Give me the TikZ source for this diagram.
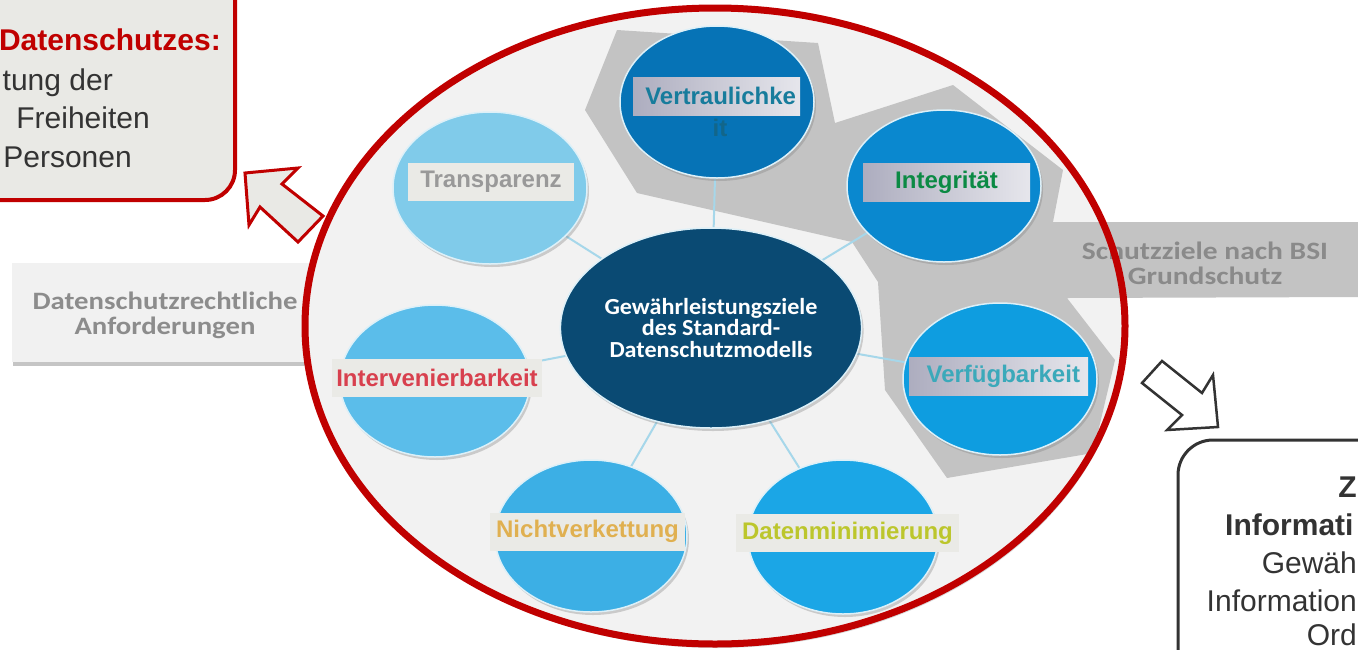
\documentclass[tikz,border=0pt]{standalone}
\usepackage{graphicx}
\usepackage{fontspec}
\setmainfont{Liberation Sans}
\newfontfamily\calfont{Carlito}
\usetikzlibrary{shapes.geometric,shadows}

\newcommand\widetext[2]{\scalebox{#1}[1]{#2}}

\definecolor{ringred}{HTML}{C00000}
\definecolor{disk}{HTML}{F2F2F2}
\definecolor{band}{HTML}{C3C3C3}
\definecolor{bandtext}{HTML}{8A8A8A}
\definecolor{boxfill}{HTML}{E9E9E5}
\definecolor{leftfill}{HTML}{F1F1F1}
\definecolor{lefttext}{HTML}{8C8C8C}
\definecolor{darktext}{HTML}{333333}
\definecolor{linkblue}{HTML}{A6D7EA}
\definecolor{rimblue}{HTML}{DDF0F8}
\definecolor{coreblue}{HTML}{0A4A73}
\definecolor{cVer}{HTML}{0673B6}
\definecolor{cInt}{HTML}{0A88CF}
\definecolor{cVfg}{HTML}{0E9DE0}
\definecolor{cDat}{HTML}{1BA6E6}
\definecolor{cNic}{HTML}{3CAFE5}
\definecolor{cInv}{HTML}{5BBDEA}
\definecolor{cTra}{HTML}{80CBEA}
\definecolor{tagplain}{HTML}{EAEAE6}
\definecolor{tagdark}{HTML}{ADADBF}
\definecolor{taglight}{HTML}{E6E6EC}
\definecolor{tVer}{HTML}{177C9C}
\definecolor{tVerB}{HTML}{12668A}
\definecolor{tInt}{HTML}{0B8A44}
\definecolor{tVfg}{HTML}{3BA9BA}
\definecolor{tDat}{HTML}{BCC62C}
\definecolor{tNic}{HTML}{E0B050}
\definecolor{tInv}{HTML}{D8404E}
\definecolor{tTra}{HTML}{999999}

\pgfdeclarelayer{base}
\pgfdeclarelayer{links}
\pgfdeclarelayer{top}
\pgfsetlayers{base,links,main,top}

\tikzset{
  goal/.style={ellipse, draw=rimblue, line width=1.5pt, inner sep=0pt,
    minimum width=194pt, minimum height=152pt,
    drop shadow={shadow xshift=2pt, shadow yshift=-3pt, opacity=.35}},
  tag/.style={rectangle, inner sep=0pt, minimum height=38pt,
    font=\fontsize{24}{28}\selectfont\bfseries},
  plaintag/.style={tag, fill=tagplain},
  shadetag/.style={tag, left color=tagdark, right color=taglight},
  link/.style={draw=linkblue, line width=2pt},
  bigtxt/.style={inner sep=0pt, font=\fontsize{30}{36}\selectfont},
  bigbold/.style={inner sep=0pt, font=\fontsize{30}{36}\selectfont\bfseries},
  caltxt/.style={inner sep=0pt, font=\calfont\fontsize{25}{27}\selectfont\bfseries},
}

\begin{document}
\begin{tikzpicture}[x=1pt,y=-1pt]
\useasboundingbox (0,0) rectangle (1358,649);
\clip (0,0) rectangle (1358,649);

\begin{pgfonlayer}{base}
  \fill[white] (0,0) rectangle (1358,649);

  % left requirement box, partly under the ring
  \node[rectangle, fill=leftfill, minimum width=298pt, minimum height=99pt,
        inner sep=0pt,
        drop shadow={shadow xshift=1pt, shadow yshift=-4pt, opacity=.45}]
        (req) at (161,312.5) {};
  \node[caltxt, text=lefttext] (reqtxt1) at (165,301)
        {\widetext{1.15}{Datenschutzrechtliche}};
  \node[caltxt, text=lefttext] (reqtxt2) at (165,328)
        {\widetext{1.15}{Anforderungen}};

  % goal of data protection, top left
  \draw[ringred, line width=4pt, fill=boxfill, rounded corners=30pt]
        (-60,-40) rectangle (235,200);
  \node[bigbold, anchor=base east, text=ringred] (dz) at (221,50) {Datenschutzes:};
  \node[bigtxt, anchor=base east, text=darktext] (dz2) at (113,90) {tung der};
  \node[bigtxt, anchor=base east, text=darktext] (dz3) at (150,128) {Freiheiten};
  \node[bigtxt, anchor=base east, text=darktext] (dz4) at (132,167) {Personen};

  % block arrow pointing to the top left box
  \draw[ringred, line width=3pt, fill=boxfill, line join=miter]
        (245,173) -- (298,168) -- (282,184) -- (323,216) -- (298,242)
        -- (260,207) -- (249,225) -- cycle;

  % disk of the ring
  \fill[disk, drop shadow={shadow xshift=2pt, shadow yshift=-4pt, opacity=.3}]
        (715,326) ellipse [x radius=410pt, y radius=318pt];

  % grey band of the BSI protection goals
  \fill[band] (617,30) -- (818,43) -- (835,123) -- (953,85) -- (1063,170)
        -- (1053,222) -- (1360,222) -- (1360,297) -- (1067,298) -- (1115,360)
        -- (1093,453) -- (947,478) -- (885,390) -- (878,282) -- (852,242)
        -- (637,193) -- (585,110) -- cycle;
  \node[caltxt, text=bandtext] (bsi1) at (1205,251)
        {\widetext{1.18}{Schutzziele nach BSI}};
  \node[caltxt, text=bandtext] (bsi2) at (1205,276)
        {\widetext{1.18}{Grundschutz}};
\end{pgfonlayer}

% centre and the seven goals
\node[ellipse, fill=coreblue, draw=rimblue, line width=1.5pt, inner sep=0pt,
      minimum width=294pt, minimum height=200pt,
      drop shadow={shadow xshift=2pt, shadow yshift=-3pt, opacity=.35},
      align=center, text=white, font=\calfont\fontsize{23}{21.5}\selectfont\bfseries]
      (core) at (711,328)
      {\widetext{1.05}{Gewährleistungsziele}\\\widetext{1.05}{des Standard-}\\\widetext{1.05}{Datenschutzmodells}};

\node[goal, fill=cVer] (ver) at (717,102) {};
\node[goal, fill=cInt] (int) at (944,186) {};
\node[goal, fill=cVfg] (vfg) at (1000,379) {};
\node[goal, fill=cDat, minimum width=190pt, minimum height=154pt] (dat) at (843,537) {};
\node[goal, fill=cNic, minimum width=192pt] (nic) at (591,536) {};
\node[goal, fill=cInv, minimum width=190pt] (inv) at (435,381) {};
\node[goal, fill=cTra] (tra) at (490,188) {};

\begin{pgfonlayer}{links}
  \draw[link] (core) -- (ver);
  \draw[link] (core) -- (int);
  \draw[link] (core) -- (vfg);
  \draw[link] (core) -- (dat);
  \draw[link] (core) -- (nic);
  \draw[link] (core) -- (inv);
  \draw[link] (core) -- (tra);
\end{pgfonlayer}

% labels of the goals
\node[shadetag, minimum width=167pt, text=tVer, text width=167pt, align=right]
      (lver) at (716.5,96) {Vertraulichke\hspace*{4pt}};
\node[inner sep=0pt, text=tVerB, font=\fontsize{24}{28}\selectfont\bfseries]
      (lver2) at (720,128) {it};
\node[shadetag, minimum width=167pt, text=tInt] (lint) at (946.5,182) {Integrität};
\node[shadetag, minimum width=179pt, text=tVfg, text width=179pt, align=right]
      (lvfg) at (998.5,376.5) {Verfügbarkeit\hspace*{8pt}};
\node[plaintag, minimum width=223pt, text=tDat] (ldat) at (847.5,533) {Datenminimierung};
\node[plaintag, minimum width=195pt, text=tNic] (lnic) at (587.5,531.5) {Nichtverkettung};
\node[plaintag, minimum width=210pt, text=tInv] (linv) at (437,377.5) {Intervenierbarkeit};
\node[plaintag, minimum width=166pt, text=tTra] (ltra) at (491,182) {Transparenz};

\begin{pgfonlayer}{top}
  % red ring
  \draw[ringred, line width=7pt] (715,326) ellipse [x radius=410pt, y radius=318pt];

  % block arrow towards the information security box
  \draw[darktext, line width=2.5pt, fill=white, line join=miter]
        (1218,427) -- (1167,430) -- (1182,415) -- (1142,383) -- (1162,361)
        -- (1202,393) -- (1213,375) -- cycle;

  % goal of information security, bottom right
  \draw[darktext, line width=3pt, fill=white, rounded corners=35pt]
        (1178,440) rectangle (1460,720);
  \node[bigbold, anchor=base east, text=darktext] (is1) at (1357,497) {Z};
  \node[bigbold, anchor=base west, text=darktext] (is2) at (1225,535) {Informati};
  \node[bigtxt, anchor=base east, text=darktext] (is3) at (1357,573) {Gewäh};
  \node[bigtxt, anchor=base east, text=darktext] (is4) at (1357,611) {Information};
  \node[bigtxt, anchor=base east, text=darktext] (is5) at (1357,645) {Ord};
\end{pgfonlayer}
\end{tikzpicture}
\end{document}
